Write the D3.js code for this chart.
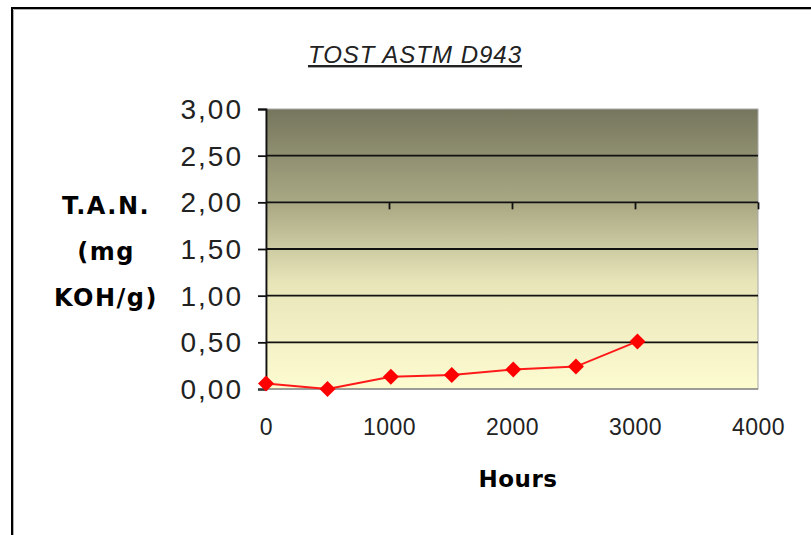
<!DOCTYPE html>
<html>
<head>
<meta charset="utf-8">
<script src="https://cdn.jsdelivr.net/npm/d3@7"></script>
<style>
  body { margin: 0; background: #fff; }
  svg { display: block; }
</style>
</head>
<body>
<svg id="chart" width="811" height="535"></svg>
<script>
// dati
const hours = [0, 500, 1015, 1510, 2010, 2520, 3020];
const tan = [0.06, 0.00, 0.13, 0.15, 0.21, 0.24, 0.51];
const xTicks = [0, 1000, 2000, 3000, 4000];
const yTicks = [0, 0.5, 1, 1.5, 2, 2.5, 3];
const yTitleLines = ["T.A.N.", "(mg", "KOH/g)"];
const chartTitle = "TOST ASTM D943";
const xTitle = "Hours";

const svg = d3.select("#chart");

const plot = { left: 266, right: 758, top: 109, bottom: 389 };

const x = d3.scaleLinear().domain([0, 4000]).range([plot.left, plot.right]);
const y = d3.scaleLinear().domain([0, 3]).range([plot.bottom, plot.top]);

// cornice esterna
svg.append("path")
    .attr("d", "M13.5,535 V9.5 H811")
    .attr("fill", "none")
    .attr("stroke", "#b0b0b0")
    .attr("stroke-width", 1);
svg.append("path")
    .attr("d", "M12,535 V8 H811")
    .attr("fill", "none")
    .attr("stroke", "#000")
    .attr("stroke-width", 2);

// sfondo sfumato dell'area del grafico
const grad = svg.append("defs").append("linearGradient")
    .attr("id", "bg")
    .attr("x1", 0).attr("y1", 0).attr("x2", 0).attr("y2", 1);
grad.append("stop").attr("offset", "0%").attr("stop-color", "#76765e");
grad.append("stop").attr("offset", "35%").attr("stop-color", "#acab86");
grad.append("stop").attr("offset", "62%").attr("stop-color", "#e8e5b9");
grad.append("stop").attr("offset", "100%").attr("stop-color", "#fdfbd0");

svg.append("rect")
    .attr("x", plot.left)
    .attr("y", plot.top)
    .attr("width", plot.right - plot.left)
    .attr("height", plot.bottom - plot.top)
    .attr("fill", "url(#bg)")
    .attr("stroke", "#a8a8a8")
    .attr("stroke-width", 1);

// griglia orizzontale
svg.append("g")
    .selectAll("line")
    .data(yTicks.filter(d => d > 0 && d < 3))
    .join("line")
    .attr("x1", plot.left)
    .attr("x2", plot.right)
    .attr("y1", d => y(d))
    .attr("y2", d => y(d))
    .attr("stroke", "#111")
    .attr("stroke-width", 1.8);

// asse Y
const yAxis = svg.append("g")
    .attr("transform", `translate(${plot.left},0)`)
    .call(d3.axisLeft(y).tickValues(yTicks).tickSize(8).tickPadding(15)
        .tickFormat(d => d3.format(".2f")(d).replace(".", ",")));
yAxis.select(".domain").attr("stroke", "#111").attr("stroke-width", 1.8);
yAxis.selectAll(".tick line").attr("stroke", "#111").attr("stroke-width", 1.8);
yAxis.selectAll("text")
    .attr("font-family", "Liberation Sans, Arial, sans-serif")
    .attr("font-size", 28)
    .attr("letter-spacing", 2)
    .attr("dy", "0.34em")
    .attr("fill", "#222");

// asse X (linea che incrocia a 2,00 con le tacche verso il basso)
const xAxisLine = svg.append("g")
    .attr("transform", `translate(0,${y(2)})`)
    .call(d3.axisBottom(x).tickValues(xTicks.filter(d => d > 0)).tickSize(7).tickSizeOuter(0).tickFormat(""));
xAxisLine.select(".domain").remove();
xAxisLine.selectAll(".tick line").attr("stroke", "#111").attr("stroke-width", 1.8);

// linea di base a 0
svg.append("line")
    .attr("x1", plot.left - 8)
    .attr("x2", plot.right)
    .attr("y1", y(0))
    .attr("y2", y(0))
    .attr("stroke", "#666")
    .attr("stroke-width", 1.2);

// etichette asse X
const xAxis = svg.append("g")
    .attr("transform", `translate(0,${plot.bottom})`)
    .call(d3.axisBottom(x).tickValues(xTicks).tickSize(0).tickPadding(30).tickFormat(d3.format("d")));
xAxis.select(".domain").remove();
xAxis.selectAll("text")
    .attr("font-family", "Liberation Sans, Arial, sans-serif")
    .attr("font-size", 23)
    .attr("letter-spacing", 0.5)
    .attr("fill", "#222");

// serie
const line = d3.line()
    .x((d, i) => x(hours[i]))
    .y(d => y(d));

svg.append("path")
    .datum(tan)
    .attr("d", line)
    .attr("fill", "none")
    .attr("stroke", "#ff1a1a")
    .attr("stroke-width", 2);

svg.append("g")
    .selectAll("path")
    .data(tan)
    .join("path")
    .attr("transform", (d, i) => `translate(${x(hours[i])},${y(d)})`)
    .attr("d", "M0,-8 L8,0 L0,8 L-8,0 Z")
    .attr("fill", "#ff0000");

// titolo
svg.append("text")
    .attr("x", 415)
    .attr("y", 63)
    .attr("text-anchor", "middle")
    .attr("font-family", "Liberation Sans, Arial, sans-serif")
    .attr("font-style", "italic")
    .attr("font-size", 24)
    .attr("letter-spacing", 1)
    .attr("fill", "#222")
    .attr("text-decoration", "underline")
    .text(chartTitle);

// titolo asse Y
svg.append("g")
    .selectAll("text")
    .data(yTitleLines)
    .join("text")
    .attr("x", 106)
    .attr("y", (d, i) => 214 + i * 46)
    .attr("text-anchor", "middle")
    .attr("font-family", "DejaVu Sans, Verdana, sans-serif")
    .attr("font-weight", "bold")
    .attr("font-size", 24)
    .attr("letter-spacing", 1.5)
    .attr("fill", "#000")
    .text(d => d);

// titolo asse X
svg.append("text")
    .attr("x", 518)
    .attr("y", 487)
    .attr("text-anchor", "middle")
    .attr("font-family", "DejaVu Sans, Verdana, sans-serif")
    .attr("font-weight", "bold")
    .attr("font-size", 23)
    .attr("letter-spacing", 0.5)
    .attr("fill", "#000")
    .text(xTitle);
</script>
</body>
</html>
